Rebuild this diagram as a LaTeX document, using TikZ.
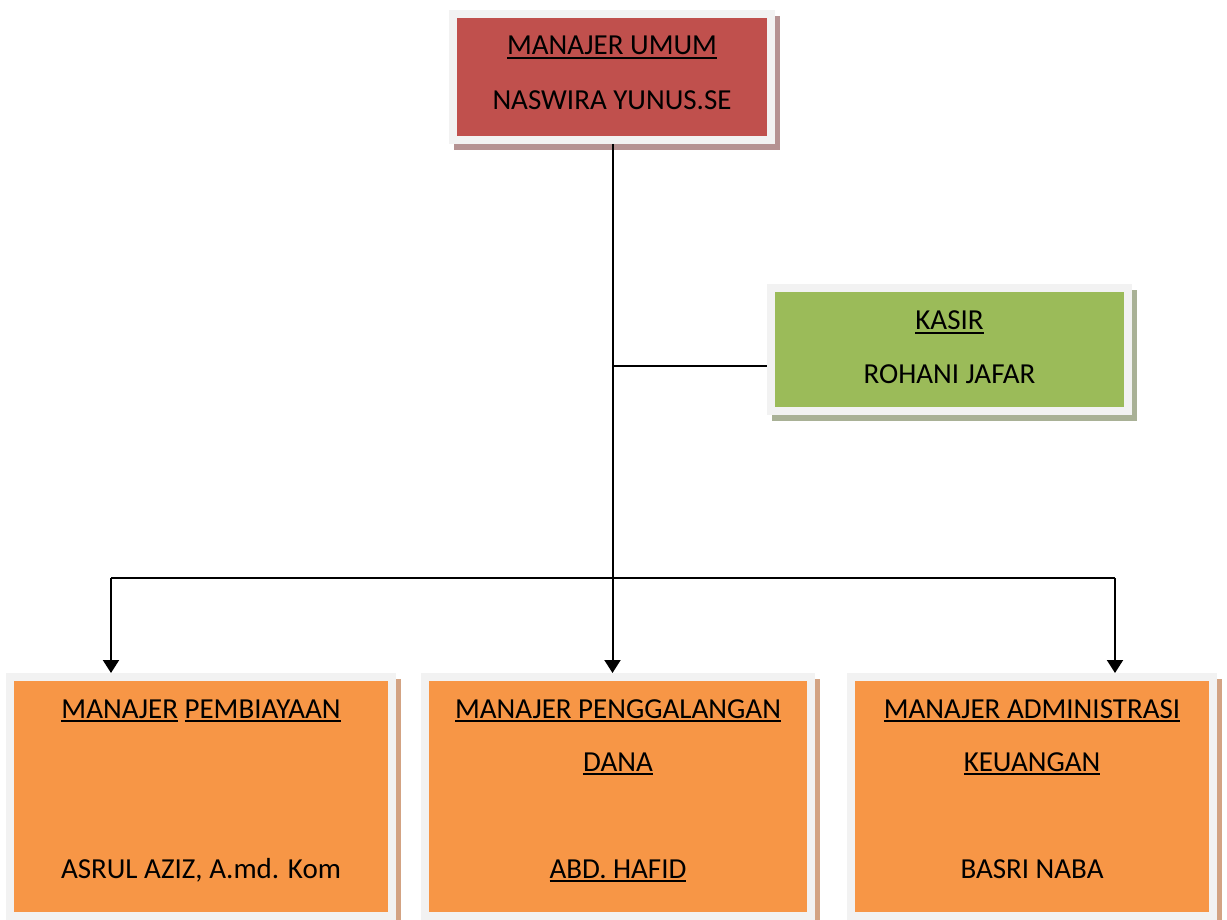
\documentclass[tikz,border=0pt]{standalone}
\usepackage{fontspec}
\setmainfont{Carlito}
\usetikzlibrary{arrows.meta,shadows}
\definecolor{cred}{HTML}{C0504D}
\definecolor{cgreen}{HTML}{9BBB59}
\definecolor{corange}{HTML}{F79646}
\definecolor{cframe}{HTML}{F2F2F2}
\definecolor{sred}{HTML}{B59292}
\definecolor{sgreen}{HTML}{A9B196}
\definecolor{sorange}{HTML}{D3A383}
\newcommand\ulin[1]{\setbox0=\hbox{#1}\rlap{\rule[-4.3pt]{\wd0}{2pt}}\box0\relax}
\begin{document}
\begin{tikzpicture}[x=1pt,y=-1pt,
  box/.style args={#1/#2}{draw=cframe, line width=8pt, fill=#1, rectangle, inner sep=0pt,
    general shadow={shadow xshift=5pt, shadow yshift=-6pt, fill=#2, draw=#2, line width=8pt}},
  txt/.style={anchor=base, inner sep=0pt, font=\fontsize{29}{34}\selectfont},
  conn/.style={line width=2pt, black},
  arr/.style={conn, -{Triangle[length=13pt,width=16pt]}}]
\useasboundingbox (0,0) rectangle (1227,920);
% boxes
\node[box=cred/sred, minimum width=318pt, minimum height=126pt] (mu) at (612,77) {};
\node[box=cgreen/sgreen, minimum width=357pt, minimum height=123pt] (kasir) at (949.5,349.5) {};
\node[box=corange/sorange, minimum width=382pt, minimum height=239pt] (m1) at (201,796.5) {};
\node[box=corange/sorange, minimum width=386pt, minimum height=239pt] (m2) at (618,796.5) {};
\node[box=corange/sorange, minimum width=362pt, minimum height=239pt] (m3) at (1032,796.5) {};
% texts
\node[txt] (t1) at (612,55) {\ulin{MANAJER UMUM}};
\node[txt] (t2) at (612,110) {NASWIRA YUNUS.SE};
\node[txt] (t3) at (949.5,330) {\ulin{KASIR}};
\node[txt] (t4) at (949.5,383) {ROHANI JAFAR};
\node[txt] (t5) at (201,718) {\ulin{MANAJER} \ulin{PEMBIAYAAN}};
\node[txt] (t6) at (201,878) {ASRUL AZIZ, A.md. Kom};
\node[txt] (t7) at (618,718) {\ulin{MANAJER PENGGALANGAN}};
\node[txt] (t8) at (618,771) {\ulin{DANA}};
\node[txt] (t9) at (618,878) {\ulin{ABD. HAFID}};
\node[txt] (t10) at (1032,718) {\ulin{MANAJER ADMINISTRASI}};
\node[txt] (t11) at (1032,771) {\ulin{KEUANGAN}};
\node[txt] (t12) at (1032,878) {BASRI NABA};
% connectors
\coordinate (kj) at (612.5,366);
\coordinate (bus) at (612.5,578);
\coordinate (bl) at (111,578);
\coordinate (br) at (1115,578);
\draw[arr] (mu.south -| bus) -- (bus |- m2.north);
\draw[conn] (kj) -- (kj -| kasir.west);
\draw[conn] (bl) -- (br);
\draw[arr] (bl) -- (bl |- m1.north);
\draw[arr] (br) -- (br |- m3.north);
\end{tikzpicture}
\end{document}
